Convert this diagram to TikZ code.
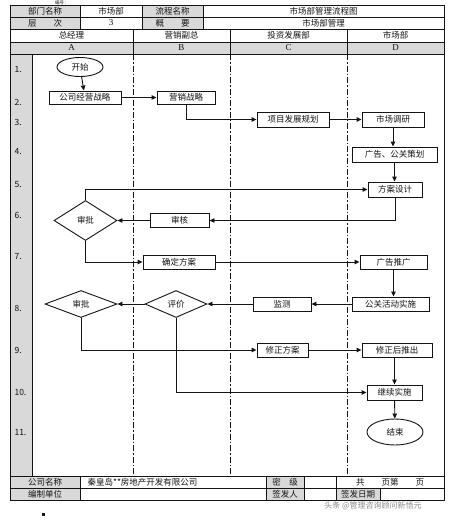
\documentclass[tikz,border=0pt]{standalone}
\usepackage{fontspec}
\setmainfont{Liberation Serif}
\newfontfamily\cjk{Noto Sans CJK SC}
\usetikzlibrary{arrows.meta,shapes.geometric}
\definecolor{Cell}{HTML}{D9D9D9}
\definecolor{Ink}{HTML}{141414}
\definecolor{Faint}{HTML}{8C8C8C}

\begin{document}
\begin{tikzpicture}[x=1pt,y=-1pt,>={Triangle[length=5pt,width=4.5pt]},
  font=\cjk\fontsize{8.5}{10}\selectfont,every node/.style={text=Ink},
  stepbox/.style={draw=Ink,line width=0.9pt,minimum height=14pt,inner sep=1pt},
  choice/.style={diamond,draw=Ink,line width=0.9pt,inner sep=0pt},
  term/.style={ellipse,draw=Ink,line width=0.9pt,inner sep=0pt},
  flow/.style={Ink,line width=0.9pt,->},
  lane/.style={Ink,line width=0.8pt,dash pattern=on 6pt off 2pt on 1.5pt off 2pt},
  grid/.style={Ink,line width=0.8pt}]
\useasboundingbox[fill=white] (0,0) rectangle (453,523);
% table frame
\fill[Cell] (10,5.7) rectangle (80,29);\fill[Cell] (142,5.7) rectangle (203,29);
\fill[Cell] (10,42) rectangle (444,54);\fill[Cell] (10,54) rectangle (32,476);
\fill[Cell] (10,476) rectangle (80,500);\fill[Cell] (266,476) rectangle (304,500);\fill[Cell] (336,488) rectangle (380,500);
\draw[grid] (10,5.7) rectangle (444,500);
\foreach \y in {17.3,29,42,54,476,488} \draw[grid] (10,\y) -- (444,\y);
\foreach \x in {80,142,203} \draw[grid] (\x,5.7) -- (\x,29);
\foreach \x in {133,230,347} \draw[grid] (\x,29) -- (\x,54);
\draw[grid] (32,54) -- (32,476);
\foreach \x in {133,230,347} \draw[lane] (\x,54) -- (\x,476);
\foreach \x in {80,266,304,336} \draw[grid] (\x,476) -- (\x,500);
\draw[grid] (380,488) -- (380,500);
% header texts
\node[font=\cjk\fontsize{4.5}{5}\selectfont,inner sep=0pt] (no) at (62,2.8) {编号：};
\node (deptkey) at (45,11.5) {部门名称};\node (deptval) at (111,11.5) {市场部};
\node (flowkey) at (172.5,11.5) {流程名称};\node (flowval) at (323.5,11.5) {市场部管理流程图};
\node (levkey) at (45,23) {层\quad\quad 次};\node[font=\rmfamily\small] (levval) at (111,23) {3};
\node (sumkey) at (172.5,23) {概\quad\quad 要};\node (sumval) at (323.5,23) {市场部管理};
\node (laneA) at (71.5,35.5) {总经理};\node (laneB) at (181.5,35.5) {营销副总};
\node (laneC) at (288.5,35.5) {投资发展部};\node (laneD) at (395.5,35.5) {市场部};
\node[font=\rmfamily\small] (keyA) at (71.5,48) {A};\node[font=\rmfamily\small] (keyB) at (181.5,48) {B};
\node[font=\rmfamily\small] (keyC) at (288.5,48) {C};\node[font=\rmfamily\small] (keyD) at (395.5,48) {D};
\foreach \n/\y in {1/70,2/102,3/122,4/152,5/185,6/215,7/257,8/308,9/350,10/392,11/433}
  \node[anchor=west] (row\n) at (11,\y) {\n.};
% footer texts
\node (firmkey) at (45,482) {公司名称};\node[anchor=west] (firmval) at (84,482) {秦皇岛**房地产开发有限公司};
\node (makekey) at (45,494) {编制单位};
\node (gradekey) at (285,482) {密\quad 级};\node (pages) at (390,482) {共\quad\quad 页第\quad\quad 页};
\node (signkey) at (285,494) {签发人};\node (datekey) at (358,494) {签发日期};
\node[text=Faint,font=\cjk\fontsize{8}{9}\selectfont] (mark) at (373,506) {头条 @管理咨询顾问新悟元};
\fill[Ink] (42,513) rectangle (44.5,515.5);
% flow steps
\node[term,minimum width=46pt,minimum height=19pt] (start) at (80,67) {开始};
\node[stepbox,minimum width=72pt,minimum height=13pt] (strat) at (85,97.5) {公司经营战略};
\node[stepbox,minimum width=58pt,minimum height=13pt] (mkt) at (186,97.5) {营销战略};
\node[stepbox,minimum width=72pt,minimum height=15pt] (plan) at (293,119.5) {项目发展规划};
\node[stepbox,minimum width=62pt,minimum height=15pt] (survey) at (393,119.5) {市场调研};
\node[stepbox,minimum width=85pt,minimum height=15pt] (adpr) at (394.5,154.5) {广告、公关策划};
\node[stepbox,minimum width=54pt,minimum height=15pt] (design) at (395,189.5) {方案设计};
\node[stepbox,minimum width=59pt] (review) at (179.5,220.5) {审核};
\node[choice,minimum width=63pt,minimum height=40pt] (approveA) at (85.5,220.5) {审批};
\node[stepbox,minimum width=72pt] (fix) at (179,262) {确定方案};
\node[stepbox,minimum width=67pt] (promo) at (393.5,262) {广告推广};
\node[stepbox,minimum width=77pt] (event) at (390.5,304) {公关活动实施};
\node[stepbox,minimum width=58pt] (watch) at (282,304) {监测};
\node[choice,minimum width=62pt,minimum height=27pt] (assess) at (176,304) {评价};
\node[choice,minimum width=72pt,minimum height=27pt] (approveB) at (81,304) {审批};
\node[stepbox,minimum width=51pt] (revise) at (282.5,350) {修正方案};
\node[stepbox,minimum width=70pt] (relaunch) at (397,350) {修正后推出};
\node[stepbox,minimum width=55pt,minimum height=15pt] (goon) at (394.5,392.5) {继续实施};
\node[term,minimum width=56pt,minimum height=26pt] (stop) at (395,432) {结束};
% connectors
\draw[flow] (start) -- (strat);
\draw[flow] (strat) -- (mkt);
\draw[flow] (mkt.south) |- (plan);
\draw[flow] (plan) -- (survey);
\draw[flow] (survey.south) -- (survey.south |- adpr.north);
\draw[flow] (adpr.south) -- (adpr.south |- design.north);
\draw[flow] (approveA.north) |- (design);
\draw[flow] (design.south) |- (review);
\draw[flow] (review) -- (approveA);
\draw[flow] (approveA.south) |- (fix);
\draw[flow] (fix) -- (promo);
\draw[flow] (promo.south) -- (promo.south |- event.north);
\draw[flow] (event) -- (watch);
\draw[flow] (watch) -- (assess);
\draw[flow] (assess) -- (approveB);
\draw[flow] (approveB.south) |- (revise);
\draw[flow] (revise) -- (relaunch);
\draw[flow] (goon.north |- relaunch.south) -- (goon.north);
\draw[flow] (assess.south) |- (goon);
\draw[flow] (goon) -- (stop);
\end{tikzpicture}
\end{document}
